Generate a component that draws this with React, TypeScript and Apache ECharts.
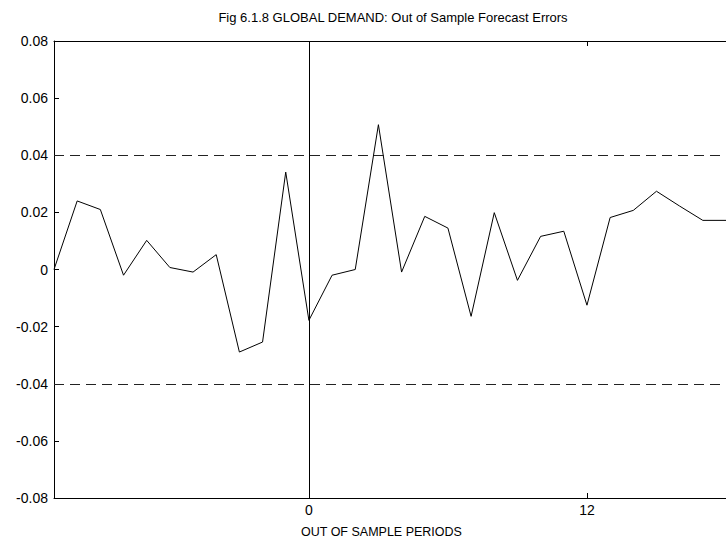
import React, { useEffect, useRef } from "react";
import * as echarts from "echarts";

const periods = [-11, -10, -9, -8, -7, -6, -5, -4, -3, -2, -1, 0, 1, 2, 3, 4, 5, 6, 7, 8, 9, 10, 11, 12, 13, 14, 15, 16, 17, 18];
const errors = [0.0, 0.024, 0.021, -0.002, 0.0102, 0.0007, -0.0009, 0.0052, -0.0289, -0.0254, 0.0341, -0.0178, -0.002, 0.0, 0.0507, -0.0009, 0.0186, 0.0145, -0.0164, 0.0199, -0.0038, 0.0116, 0.0134, -0.0125, 0.0182, 0.0207, 0.0274, 0.0222, 0.0172, 0.0172];
const bands = [0.04, -0.04];
const xTicks = [0, 12];
const yTicks = [-0.08, -0.06, -0.04, -0.02, 0, 0.02, 0.04, 0.06, 0.08];
const titleText = "Fig 6.1.8 GLOBAL DEMAND: Out of Sample Forecast Errors";
const xName = "OUT OF SAMPLE PERIODS";

export default function App() {
  const ref = useRef<HTMLDivElement>(null);
  useEffect(() => {
    if (!ref.current) return;
    const chart = echarts.init(ref.current, undefined, { renderer: "svg" });
    const font = "Liberation Sans, Arial, sans-serif";
    const axisBase = {
      type: "value" as const,
      min: -11,
      max: 18,
      splitLine: { show: false },
      axisLine: { show: true, onZero: false, lineStyle: { color: "#000", width: 1 } },
    };
    chart.setOption({
      animation: false,
      backgroundColor: "#fff",
      title: {
        text: titleText,
        left: 388,
        top: 6,
        textAlign: "center",
        textStyle: { fontFamily: font, fontSize: 13, fontWeight: "normal", color: "#000" },
      },
      grid: { left: 54, top: 41, right: -6, bottom: 48 },
      graphic: [
        {
          type: "text",
          left: 380 - 79,
          top: 525,
          style: { text: xName, fontFamily: font, fontSize: 12.5, fill: "#000" },
        },
      ],
      xAxis: [
        {
          ...axisBase,
          position: "bottom",
          axisTick: { show: true, inside: true, length: 5, customValues: xTicks, lineStyle: { color: "#000" } },
          axisLabel: { show: true, customValues: xTicks, margin: 5, fontFamily: font, fontSize: 14, color: "#000" },
        },
        {
          ...axisBase,
          position: "top",
          axisTick: { show: true, inside: true, length: 5, customValues: xTicks, lineStyle: { color: "#000" } },
          axisLabel: { show: false },
        },
      ],
      yAxis: {
        type: "value",
        min: -0.08,
        max: 0.08,
        interval: 0.02,
        splitLine: { show: false },
        axisLine: { show: true, onZero: false, lineStyle: { color: "#000", width: 1 } },
        axisTick: { show: true, inside: true, length: 5, lineStyle: { color: "#000" } },
        axisLabel: {
          fontFamily: font,
          fontSize: 14,
          color: "#000",
          margin: 6,
          customValues: yTicks,
          formatter: (v: number) => (Math.abs(v) < 1e-9 ? "0" : v.toFixed(2)),
        },
      },
      series: [
        {
          type: "line",
          data: periods.map((p, i) => [p, errors[i]]),
          showSymbol: false,
          symbol: "none",
          lineStyle: { color: "#000", width: 1 },
          markLine: {
            silent: true,
            symbol: "none",
            label: { show: false },
            data: [
              ...bands.map((b) => ({ yAxis: b, lineStyle: { color: "#222", width: 1, type: [10, 6] } })),
              { xAxis: 0, lineStyle: { color: "#000", width: 1, type: "solid" } },
            ],
          },
        },
      ],
    });
    return () => chart.dispose();
  }, []);
  return <div ref={ref} style={{ position: "fixed", left: 0, top: 0, width: 726, height: 546 }} />;
}
